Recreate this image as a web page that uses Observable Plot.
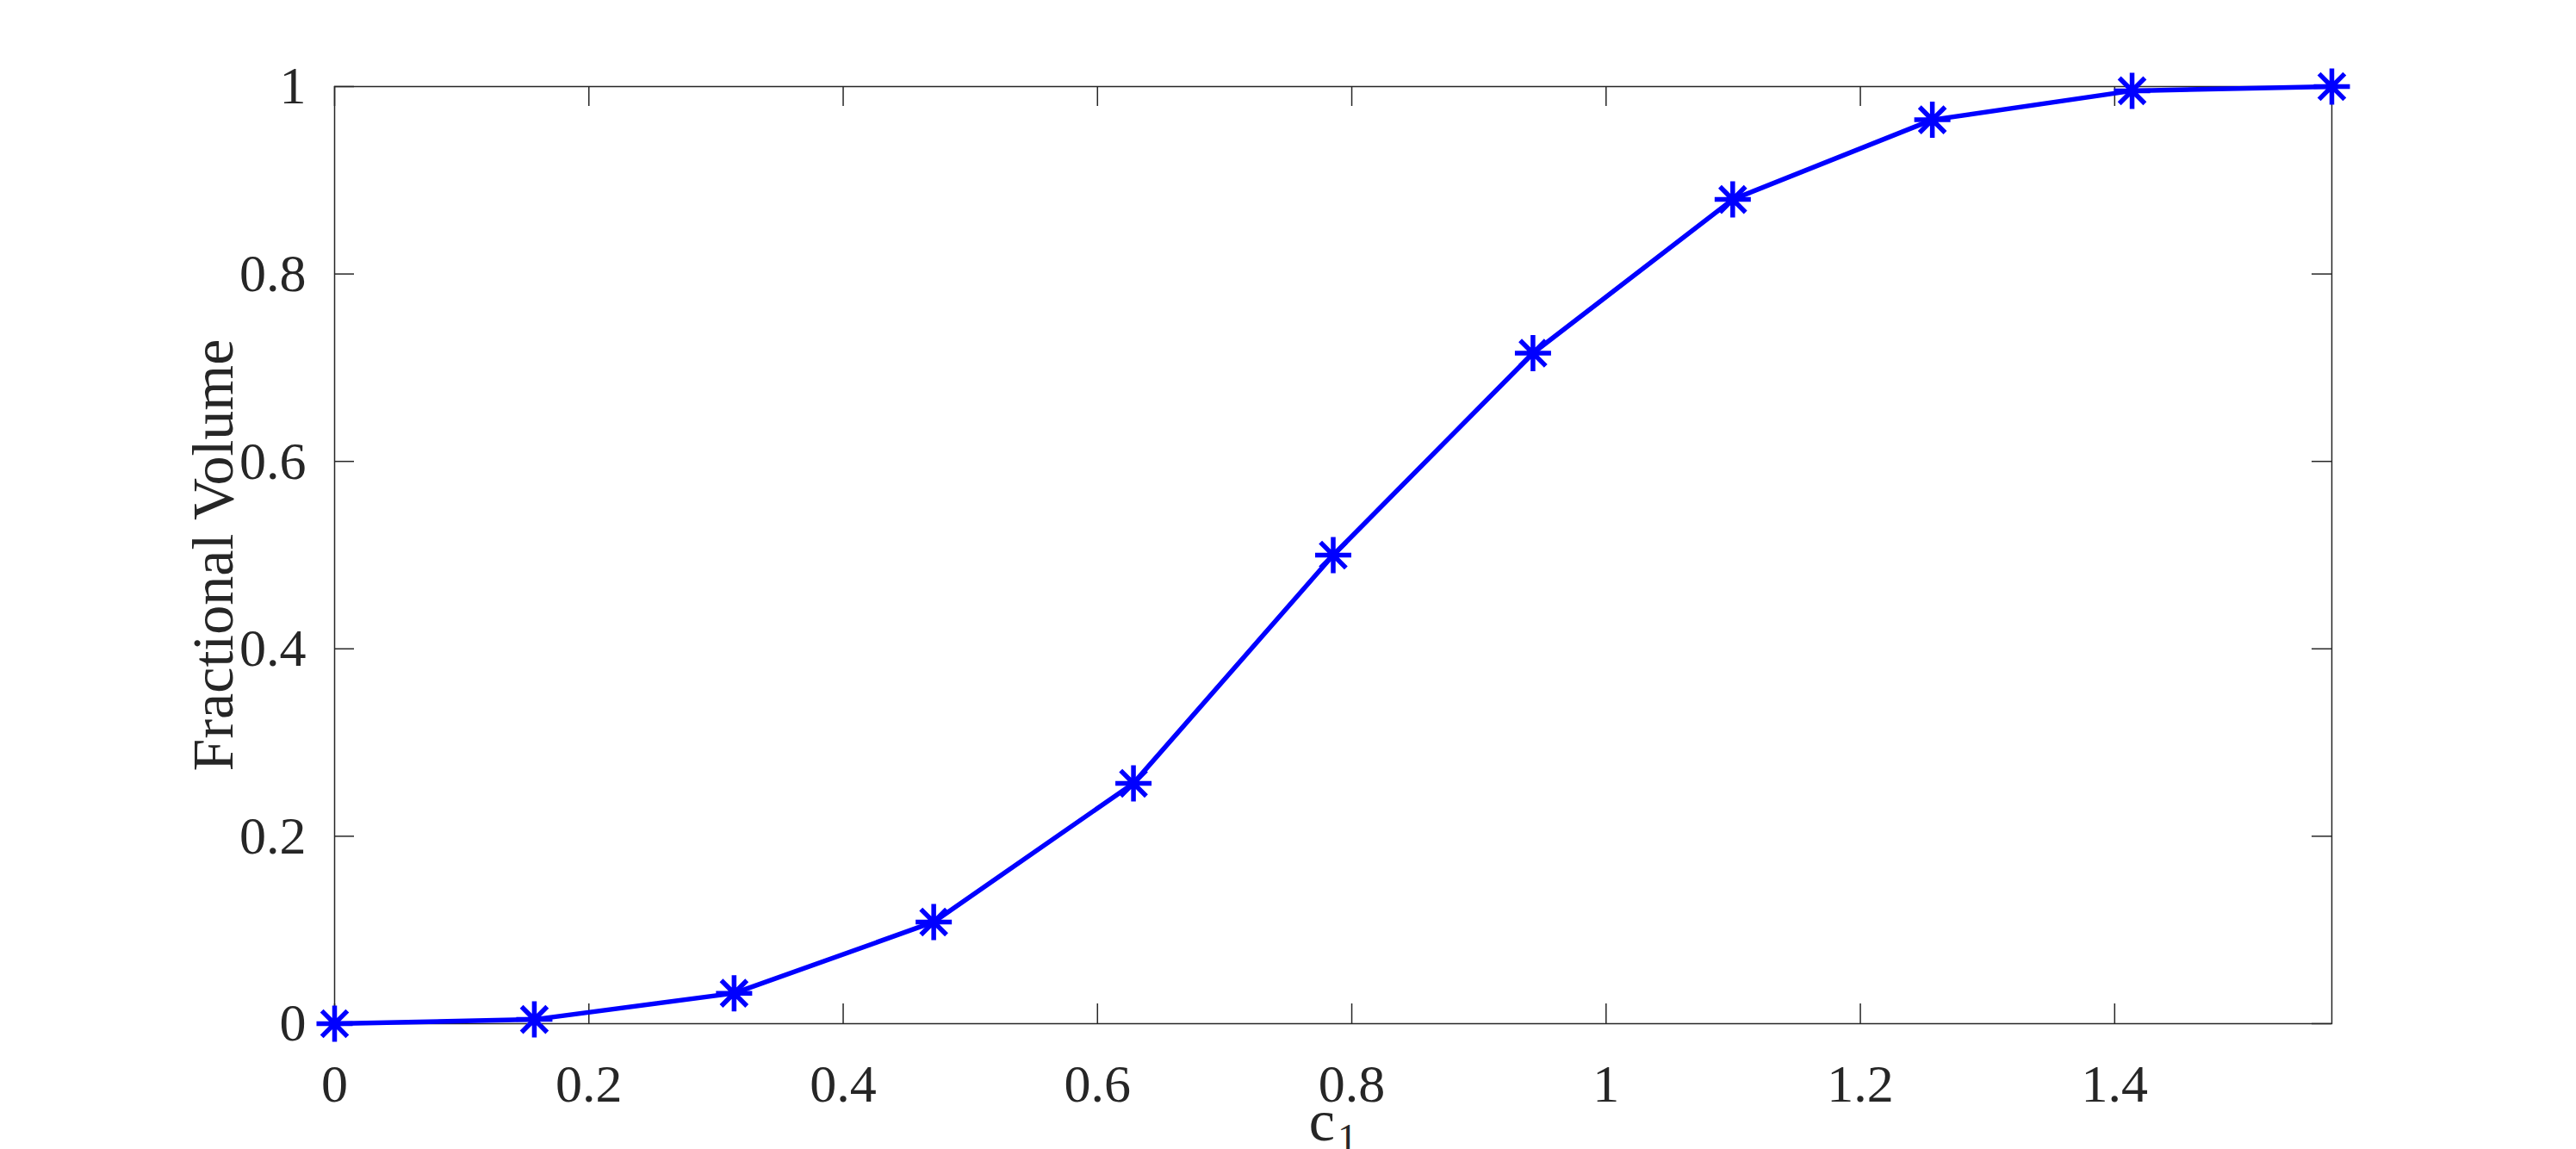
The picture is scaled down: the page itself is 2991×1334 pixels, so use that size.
<!DOCTYPE html>
<html>
<head>
<meta charset="utf-8">
<script src="https://cdn.jsdelivr.net/npm/d3@7"></script>
<script src="https://cdn.jsdelivr.net/npm/@observablehq/plot@0.6"></script>
<style>
  html, body { margin: 0; padding: 0; background: #ffffff; overflow: hidden; }
</style>
</head>
<body>
<div id="chart"></div>
<script>
// ---- Data ----
const xValues = [0, 0.1571, 0.3142, 0.4712, 0.6283, 0.7854, 0.9425, 1.0996, 1.2566, 1.4137, 1.5708];
const yValues = [0, 0.0045, 0.0325, 0.1085, 0.2565, 0.5, 0.7155, 0.8795, 0.9645, 0.9955, 1.0];
const xTicks = [0, 0.2, 0.4, 0.6, 0.8, 1, 1.2, 1.4];
const yTicks = [0, 0.2, 0.4, 0.6, 0.8, 1];
const xDomain = [0, 1.5708];
const yDomain = [0, 1];
const xLabel = "c";
const xLabelSub = "1";
const yLabel = "Fractional Volume";

const data = xValues.map((x, i) => ({x, y: yValues[i]}));

// MATLAB-like asterisk marker (8 arms)
const asterisk = {
  draw(ctx, size) {
    const r = Math.sqrt(size / Math.PI);
    const d = r * Math.SQRT1_2;
    ctx.moveTo(0, -r); ctx.lineTo(0, r);
    ctx.moveTo(-r, 0); ctx.lineTo(r, 0);
    ctx.moveTo(-d, -d); ctx.lineTo(d, d);
    ctx.moveTo(-d, d); ctx.lineTo(d, -d);
  }
};

const W = 2991, H = 1334;
const mL = 388, mR = 284, mT = 100, mB = 146;
const fw = W - mL - mR, fh = H - mT - mB;
const tickLen = 23;
const ink = "#262626";
const blue = "#0000ff";
const fmt = d => String(d);

const chart = Plot.plot({
  width: W,
  height: H,
  marginLeft: mL,
  marginRight: mR,
  marginTop: mT,
  marginBottom: mB,
  style: {fontFamily: "'Liberation Serif', 'Times New Roman', serif", color: ink, background: "#ffffff"},
  x: {domain: xDomain},
  y: {domain: yDomain},
  marks: [
    Plot.frame({stroke: ink, strokeWidth: 1.5}),
    Plot.tickX(xTicks, {x: d => d, insetTop: fh - tickLen, stroke: ink, strokeWidth: 1.5}),
    Plot.tickX(xTicks, {x: d => d, insetBottom: fh - tickLen, stroke: ink, strokeWidth: 1.5}),
    Plot.tickY(yTicks, {y: d => d, insetRight: fw - tickLen, stroke: ink, strokeWidth: 1.5}),
    Plot.tickY(yTicks, {y: d => d, insetLeft: fw - tickLen, stroke: ink, strokeWidth: 1.5}),
    Plot.axisX({ticks: xTicks, tickSize: 0, tickPadding: 46, fontSize: 62, label: null, tickFormat: fmt, fill: ink}),
    Plot.axisY({ticks: yTicks, tickSize: 0, tickPadding: 33, fontSize: 62, label: null, tickFormat: fmt, fill: ink}),
    Plot.line(data, {x: "x", y: "y", stroke: blue, strokeWidth: 5.5}),
    Plot.dot(data, {x: "x", y: "y", symbol: asterisk, r: 21, stroke: blue, strokeWidth: 5.5, fill: "none"}),
    Plot.text([yLabel], {frameAnchor: "left", rotate: -90, dx: -119, lineAnchor: "bottom", textAnchor: "middle", fontSize: 68, fill: ink}),
    Plot.text([xLabel], {frameAnchor: "bottom", textAnchor: "end", lineAnchor: "bottom", dx: 2, dy: 135, fontSize: 68, fill: ink}),
    Plot.text([xLabelSub], {frameAnchor: "bottom", textAnchor: "start", lineAnchor: "bottom", dx: 5, dy: 148, fontSize: 46, fill: ink})
  ]
});

document.getElementById("chart").appendChild(chart);
</script>
</body>
</html>
